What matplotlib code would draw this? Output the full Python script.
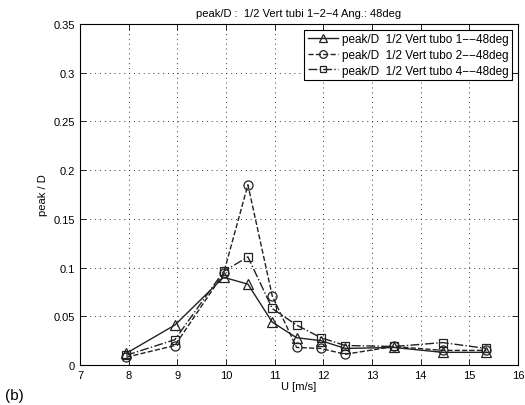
import matplotlib
matplotlib.use('Agg')
import matplotlib.pyplot as plt

plt.rcParams['font.family'] = ['Liberation Sans', 'DejaVu Sans']

U = [7.95, 8.95, 9.95, 10.45, 10.95, 11.45, 11.95, 12.45, 13.45, 14.45, 15.35]
tubo1 = [0.012, 0.041, 0.090, 0.083, 0.044, 0.028, 0.025, 0.017, 0.018, 0.013, 0.013]
tubo2 = [0.008, 0.020, 0.094, 0.185, 0.071, 0.018, 0.017, 0.011, 0.019, 0.015, 0.015]
tubo4 = [0.010, 0.026, 0.096, 0.111, 0.058, 0.041, 0.028, 0.020, 0.019, 0.023, 0.017]

labels = ['peak/D  1/2 Vert tubo 1\u2212\u221248deg',
          'peak/D  1/2 Vert tubo 2\u2212\u221248deg',
          'peak/D  1/2 Vert tubo 4\u2212\u221248deg']

fig = plt.figure(figsize=(5.25, 4.06), dpi=100)
ax = fig.add_axes([80/525, 1 - 366/406, 438/525, 341/406])

col = '#222222'
ax.plot(U, tubo1, '-', marker='^', color=col, lw=1.0, ms=6.5, mfc='none', mew=0.9, label=labels[0])
ax.plot(U, tubo2, '--', marker='o', color=col, lw=1.0, ms=6.5, mfc='none', mew=0.9, label=labels[1])
ax.plot(U, tubo4, '-.', marker='s', color=col, lw=1.0, ms=5.5, mfc='none', mew=0.9, label=labels[2])

ax.set_xlim(7, 16)
ax.set_ylim(0, 0.35)
ax.set_xticks(range(7, 17))
ax.set_yticks([0, 0.05, 0.1, 0.15, 0.2, 0.25, 0.3, 0.35])
ax.set_yticklabels(['0', '0.05', '0.1', '0.15', '0.2', '0.25', '0.3', '0.35'])
ax.tick_params(direction='in', top=True, right=True, labelsize=8, length=4, width=0.6)
ax.grid(True, linestyle=(0, (1, 4)), color='#333333', lw=0.7)
for s in ax.spines.values():
    s.set_linewidth(0.8)

ax.set_xlabel('U [m/s]', fontsize=8, labelpad=1)
ax.set_ylabel('peak / D', fontsize=8, labelpad=4)
ax.set_title('peak/D :  1/2 Vert tubi 1\u22122\u22124 Ang.: 48deg', fontsize=8, pad=6)

leg = ax.legend(loc='upper right', fontsize=8.5, fancybox=False, framealpha=1,
                edgecolor='black', borderaxespad=0.5, handlelength=2.6,
                handletextpad=0.3, labelspacing=0.3, borderpad=0.3, markerscale=0.85)
leg.get_frame().set_linewidth(0.8)

fig.text(5/525, 1 - 396/406, '(b)', fontsize=11, va='center')

fig.savefig('out.png', dpi=100)
